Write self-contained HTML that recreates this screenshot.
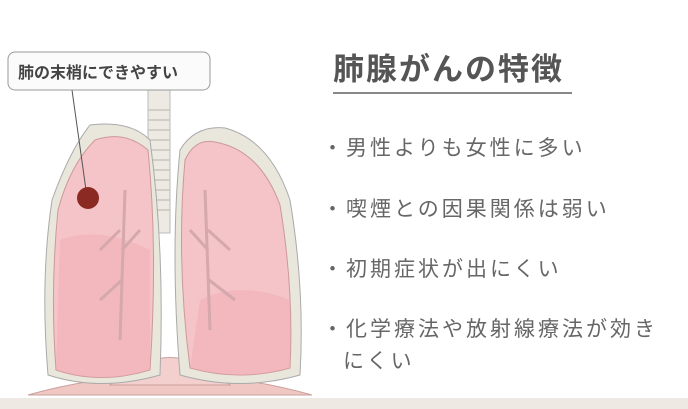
<!DOCTYPE html>
<html><head><meta charset="utf-8"><style>
body{margin:0;width:688px;height:409px;overflow:hidden;background:#fff;position:relative;font-family:"Liberation Sans","Noto Sans CJK JP",sans-serif}
.t{position:absolute;white-space:nowrap;color:#666}
.title{left:333px;top:50px;font-size:31px;color:#555;letter-spacing:2px;line-height:40px;font-weight:bold}
.ul{position:absolute;left:333px;top:92px;width:239px;height:2px;background:#888}
.b{font-size:21px;letter-spacing:3px;line-height:30px}
.strip{position:absolute;left:0;top:398px;width:688px;height:11px;background:#efe9e4}
</style></head><body>
<svg width="688" height="409" style="position:absolute;left:0;top:0">
 <path d="M28 395 Q170 355 312 395 Z" fill="#f1c7c4" stroke="#c9a09c"/>
 <path d="M110 385 Q170 330 230 385 Z" fill="#f3d0cd" stroke="#c9a09c"/>
 <rect x="148" y="88" width="22" height="145" fill="#eceae3" stroke="#bbb"/>
 <g stroke="#c8c5bd" stroke-width="1.5">
  <line x1="148" y1="110" x2="170" y2="110"/><line x1="148" y1="120" x2="170" y2="120"/><line x1="148" y1="130" x2="170" y2="130"/><line x1="148" y1="140" x2="170" y2="140"/><line x1="148" y1="150" x2="170" y2="150"/><line x1="148" y1="160" x2="170" y2="160"/><line x1="148" y1="170" x2="170" y2="170"/><line x1="148" y1="180" x2="170" y2="180"/><line x1="148" y1="190" x2="170" y2="190"/><line x1="148" y1="200" x2="170" y2="200"/><line x1="148" y1="210" x2="170" y2="210"/>
 </g>
 <path d="M90 125 Q70 150 52 200 Q40 280 48 375 Q100 392 160 375 Q165 250 150 140 Q130 120 90 125Z" fill="#e9e6dc" stroke="#aaa"/>
 <path d="M225 128 Q270 140 290 200 Q305 290 300 375 Q240 392 180 375 Q170 250 180 150 Q195 125 225 128Z" fill="#e9e6dc" stroke="#aaa"/>
 <path d="M95 140 Q70 165 58 210 Q50 290 56 370 Q100 385 150 370 Q158 250 148 150 Q125 130 95 140Z" fill="#f5c4c8" stroke="#c99" />
 <path d="M215 142 Q260 150 280 205 Q294 290 290 368 Q240 382 190 368 Q176 260 185 160 Q195 138 215 142Z" fill="#f5c4c8" stroke="#c99"/>
 <path d="M60 240 Q100 225 150 250 L150 370 Q100 385 56 370Z" fill="#f0aab2" opacity=".45"/>
 <path d="M200 300 Q240 280 290 300 L290 368 Q240 382 190 368Z" fill="#f0aab2" opacity=".45"/>
 <g stroke="#d4a8ac" stroke-width="3" fill="none">
  <path d="M125 190 L120 340 M120 230 L100 250 M122 280 L100 300 M122 250 L140 230"/>
  <path d="M205 190 L210 330 M208 230 L230 250 M209 280 L235 300 M208 250 L190 230"/>
 </g>
 <line x1="72" y1="90" x2="86" y2="190" stroke="#555" stroke-width="1"/>
 <circle cx="88" cy="198" r="11" fill="#8a2a22"/>
 <rect x="8" y="52" width="202" height="38" rx="7" fill="#fbfbfb" stroke="#999"/>
 <text x="18" y="78" font-size="16" font-weight="bold" fill="#444" font-family="Liberation Sans,Noto Sans CJK JP,sans-serif">肺の末梢にできやすい</text>
</svg>
<div class="t title">肺腺がんの特徴</div>
<div class="ul"></div>
<div class="t b" style="left:322px;top:134px">・男性よりも女性に多い</div>
<div class="t b" style="left:322px;top:195px">・喫煙との因果関係は弱い</div>
<div class="t b" style="left:322px;top:255px">・初期症状が出にくい</div>
<div class="t b" style="left:322px;top:315px">・化学療法や放射線療法が効き</div>
<div class="t b" style="left:343px;top:347px">にくい</div>
<div class="strip"></div>
</body></html>
